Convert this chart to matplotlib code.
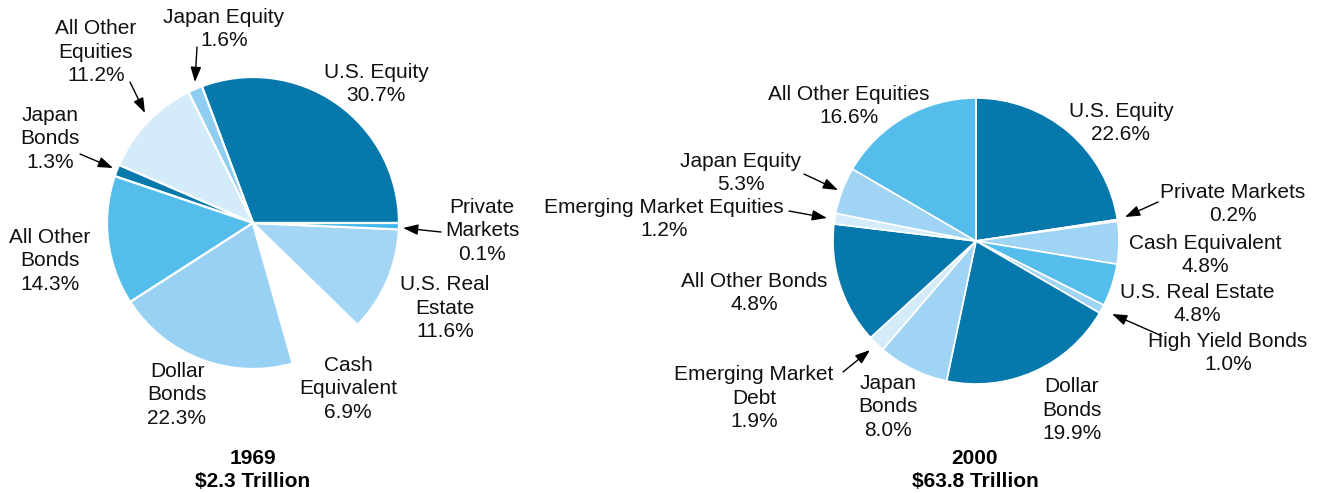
import matplotlib
matplotlib.use("Agg")
import matplotlib.pyplot as plt

# ---------------- data ----------------
cats_1969 = ["U.S. Equity", "Japan Equity", "All Other\nEquities", "Japan\nBonds",
             "All Other\nBonds", "Dollar\nBonds", "Cash\nEquivalent",
             "U.S. Real\nEstate", "Private\nMarkets"]
# slice sizes as drawn in the picture (labels below carry the printed values)
vals_1969 = [30.7, 1.6, 11.2, 1.3, 14.3, 20.3, 8.3, 11.6, 0.7]
pct_1969 = ["30.7%", "1.6%", "11.2%", "1.3%", "14.3%", "22.3%", "6.9%", "11.6%", "0.1%"]

cats_2000 = ["U.S. Equity", "Private Markets", "Cash Equivalent", "U.S. Real Estate",
             "High Yield Bonds", "Dollar\nBonds", "Japan\nBonds",
             "Emerging Market\nDebt", "All Other Bonds", "Emerging Market Equities",
             "Japan Equity", "All Other Equities"]
# slice sizes as drawn (All Other Bonds slice is drawn as ~13.7% though labelled 4.8%)
vals_2000 = [22.6, 0.2, 4.8, 4.8, 1.0, 19.9, 8.0, 1.9, 13.7, 1.2, 5.3, 16.6]
pct_2000 = ["22.6%", "0.2%", "4.8%", "4.8%", "1.0%", "19.9%", "8.0%", "1.9%",
            "4.8%", "1.2%", "5.3%", "16.6%"]

titles = ["1969\n$2.3 Trillion", "2000\n$63.8 Trillion"]

# ---------------- style ----------------
D = "#0678ab"
M = "#55bdec"
L = "#a0d4f4"
VL = "#d4ebf9"
W = "#ffffff"
colors_1969 = [D, "#8fcdf2", VL, D, M, "#98d1f3", W, "#a3d5f5", "#3fb6ec"]
colors_2000 = [D, L, L, M, L, D, L, VL, D, VL, L, M]

plt.rcParams['font.family'] = ['Liberation Sans', 'DejaVu Sans']
FS = 15
LS = 1.3

H = 493
fig = plt.figure(figsize=(13.21, 4.93), dpi=100)
ax = fig.add_axes([0, 0, 1, 1])

def P(x, y):
    return (x, H - y)

ax.pie(vals_1969, colors=colors_1969, startangle=0, counterclock=True,
       center=P(253, 223), radius=146,
       wedgeprops=dict(edgecolor="white", linewidth=1.6))
ax.pie(vals_2000, colors=colors_2000, startangle=90, counterclock=False,
       center=P(976, 241), radius=143,
       wedgeprops=dict(edgecolor="white", linewidth=1.2))

# label layout: (text centre x, centre y) in pixels, optional arrow (tail, tip)
lay_1969 = [
    ((376, 84), None),
    ((224, 29), ((197, 47), (195, 82))),
    ((96, 52), ((130, 82), (145, 113))),
    ((50, 139), ((80, 154), (113, 168))),
    ((50, 261), None),
    ((177, 395), None),
    ((348, 389), None),
    ((445, 308), None),
    ((482, 231), ((441, 232), (403, 228))),
]
lay_2000 = [
    ((1121, 123), None),
    ((1233, 204), ((1158, 202), (1125, 217))),
    ((1205, 255), None),
    ((1197, 304), None),
    ((1228, 353), ((1162, 336), (1112, 314))),
    ((1072, 410), None),
    ((888, 407), None),
    ((754, 398), ((843, 372), (870, 350))),
    ((754, 293), None),
    ((664, 219), ((789, 211), (827, 218))),
    ((741, 173), ((804, 174), (838, 190))),
    ((849, 106), None),
]

arrowprops = dict(arrowstyle="-|>,head_length=0.9,head_width=0.32",
                  color="black", lw=1.0, shrinkA=0, shrinkB=0)

for cats, pcts, lay in [(cats_1969, pct_1969, lay_1969), (cats_2000, pct_2000, lay_2000)]:
    for c, p, (pos, arr) in zip(cats, pcts, lay):
        ax.text(*P(*pos), c + "\n" + p, ha="center", va="center",
                fontsize=FS, linespacing=LS, color="#111111")
        if arr is not None:
            ax.annotate("", xy=P(*arr[1]), xytext=P(*arr[0]), arrowprops=arrowprops)

ax.text(*P(253, 470), titles[0], ha="center", va="center", fontsize=FS,
        fontweight="bold", linespacing=LS)
ax.text(*P(975, 470), titles[1], ha="center", va="center", fontsize=FS,
        fontweight="bold", linespacing=LS)

ax.set_xlim(0, 1321)
ax.set_ylim(0, H)
ax.set_aspect("equal")
ax.axis("off")

fig.savefig("out.png", dpi=100, facecolor="white")
